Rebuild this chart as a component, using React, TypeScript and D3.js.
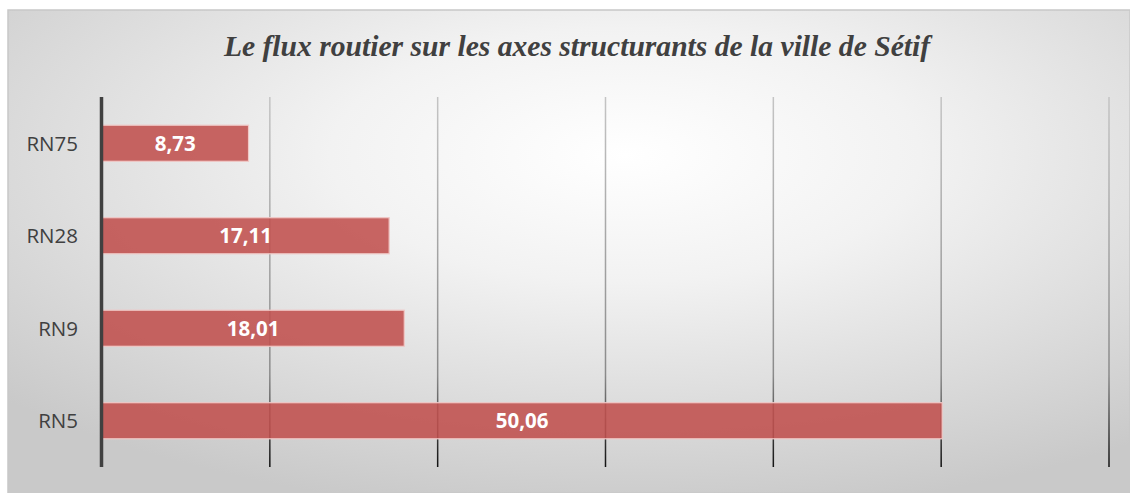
import React from "react";
import * as d3 from "d3";

const categories = ["RN75", "RN28", "RN9", "RN5"];
const values = [8.73, 17.11, 18.01, 50.06];
const valueLabels = ["8,73", "17,11", "18,01", "50,06"];
const tickValues = [0, 10, 20, 30, 40, 50, 60];
const title = "Le flux routier sur les axes structurants de la ville de Sétif";

export default function App() {
  const W = 1130;
  const H = 493;
  const x = d3.scaleLinear().domain([0, 60]).range([102, 1109]);
  const y = d3.scaleBand().domain(categories).range([97, 467]).paddingInner(0.61).paddingOuter(0.305);

  return (
    <svg width={W} height={H} style={{ position: "absolute", left: 0, top: 0 }}>
      <defs>
        <radialGradient id="bg" cx="0.55" cy="0.3" r="0.75" gradientUnits="objectBoundingBox">
          <stop offset="0" stopColor="#ffffff" />
          <stop offset="0.35" stopColor="#f2f2f2" />
          <stop offset="1" stopColor="#c9c9c9" />
        </radialGradient>
        <linearGradient id="grid" x1="0" y1="97" x2="0" y2="467" gradientUnits="userSpaceOnUse">
          <stop offset="0" stopColor="#c4c4c4" />
          <stop offset="0.75" stopColor="#8a8a8a" />
          <stop offset="1" stopColor="#111111" />
        </linearGradient>
      </defs>
      <rect x={8} y={10} width={1122} height={483} fill="url(#bg)" stroke="#c8c8c8" strokeWidth={1.5} />
      <text
        x={577}
        y={56}
        textAnchor="middle"
        fontFamily="'Liberation Serif', 'Times New Roman', serif"
        fontStyle="italic"
        fontWeight="bold"
        fontSize={29.6}
        fill="#404040"
      >
        {title}
      </text>
      {tickValues.slice(1).map((t) => (
        <rect key={t} x={x(t) - 0.75} y={97} width={1.5} height={370} fill="url(#grid)" />
      ))}
      {categories.map((c, i) => (
        <g key={c}>
          <rect
            x={x(0)}
            y={y(c)!}
            width={x(values[i]) - x(0)}
            height={y.bandwidth()}
            fill="#c0504d"
            fillOpacity={0.88}
            stroke="#f0c8c6"
            strokeWidth={1.2}
          />
          <text
            x={(x(0) + x(values[i])) / 2}
            y={y(c)! + y.bandwidth() / 2}
            dy="0.36em"
            textAnchor="middle"
            fontFamily="'Open Sans', 'Noto Sans', sans-serif"
            fontWeight="bold"
            fontSize={20.5}
            fill="#ffffff"
          >
            {valueLabels[i]}
          </text>
          <text
            x={78}
            y={y(c)! + y.bandwidth() / 2}
            dy="0.36em"
            textAnchor="end"
            fontFamily="'Open Sans', 'Noto Sans', sans-serif"
            fontSize={20.5}
            fill="#404040"
          >
            {c}
          </text>
        </g>
      ))}
      <line x1={x(0) - 0.5} x2={x(0) - 0.5} y1={97} y2={467} stroke="#404040" strokeWidth={3.5} />
    </svg>
  );
}
